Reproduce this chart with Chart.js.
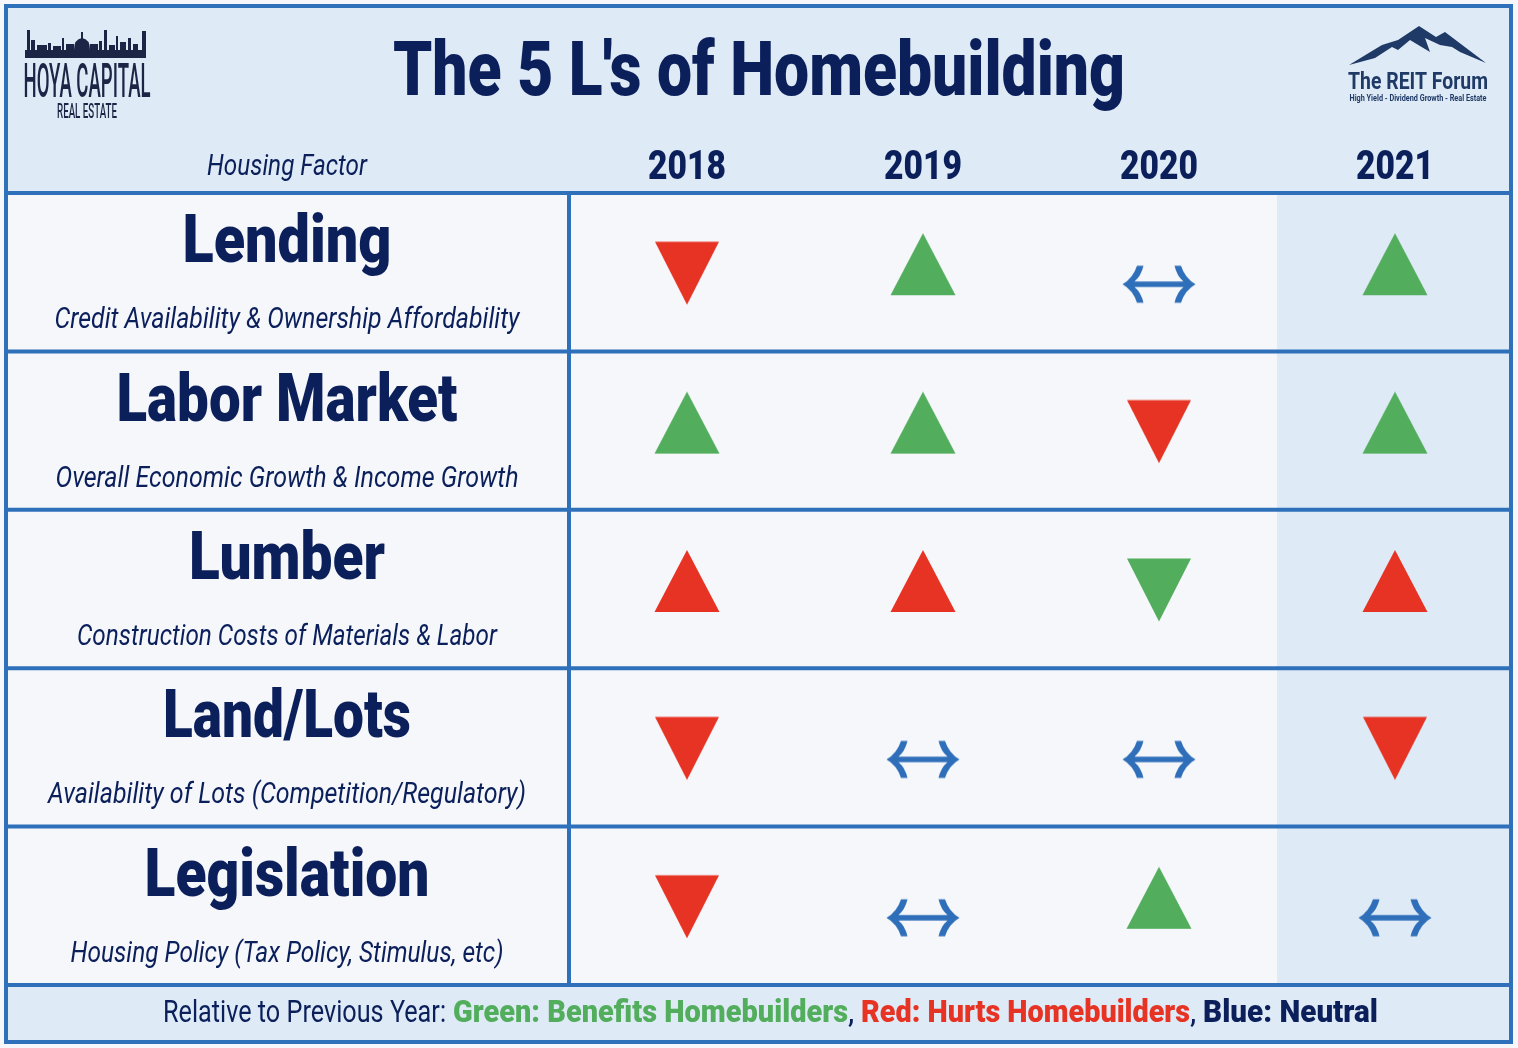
<!DOCTYPE html>
<html>
<head>
<meta charset="utf-8">
<title>The 5 L's of Homebuilding</title>
<script src="https://cdn.jsdelivr.net/npm/chart.js@4.4.1/dist/chart.umd.min.js"></script>
<style>
  html, body { margin: 0; padding: 0; background: #f5f7fb; }
  #wrap { width: 1518px; height: 1048px; position: relative; }
</style>
</head>
<body>
<div id="wrap"><canvas id="lsChart" width="1518" height="1048"></canvas></div>
<script>
// ---- data ----
const years = ['2018', '2019', '2020', '2021'];
const factors = ['Lending', 'Labor Market', 'Lumber', 'Land/Lots', 'Legislation'];
const factorNotes = [
    'Credit Availability & Ownership Affordability',
    'Overall Economic Growth & Income Growth',
    'Construction Costs of Materials & Labor',
    'Availability of Lots (Competition/Regulatory)',
    'Housing Policy (Tax Policy, Stimulus, etc)'
];
// direction of each factor vs previous year (rows = factors, cols = years)
const moves = [
    ['down', 'up', 'flat', 'up'],
    ['up', 'up', 'down', 'up'],
    ['up', 'up', 'down', 'up'],
    ['down', 'flat', 'flat', 'down'],
    ['down', 'flat', 'up', 'flat']
];
// what that move means for homebuilders
const effects = [
    ['hurts', 'benefits', 'neutral', 'benefits'],
    ['benefits', 'benefits', 'hurts', 'benefits'],
    ['hurts', 'hurts', 'benefits', 'hurts'],
    ['hurts', 'neutral', 'neutral', 'hurts'],
    ['hurts', 'neutral', 'benefits', 'neutral']
];
const effectKeys = ['benefits', 'hurts', 'neutral'];
const effectLabels = ['Benefits Homebuilders', 'Hurts Homebuilders', 'Neutral'];

const title = "The 5 L's of Homebuilding";
const footerParts = [
    { text: 'Relative to Previous Year:', tone: 'plain' },
    { text: 'Green: Benefits Homebuilders', tone: 'benefits' },
    { text: ',', tone: 'plain' },
    { text: 'Red: Hurts Homebuilders', tone: 'hurts' },
    { text: ',', tone: 'plain' },
    { text: 'Blue: Neutral', tone: 'navy' }
];

// ---- style ----
const W = 1518, H = 1048;
const navy = '#0b1f5b';
const lineBlue = '#2f70bb';
const toneColors = { benefits: '#52ad5c', hurts: '#e73323', neutral: '#2f6fba', plain: navy, navy: navy };
const headBg = '#deeaf6';
const bodyBg = '#f5f7fb';
const sans = 'Roboto, "Liberation Sans", "DejaVu Sans", sans-serif';
const heavy = '900 ';
// fitted text widths (px) measured from the layout
const nameFit = [209, 341, 196, 248, 285];
const noteFit = [465, 463, 420, 478, 433];
const footerX = [163, 453, 848, 861, 1190, 1203];
const footerFit = [283, 395, 8, 329, 7, 175];

// marker images: shape drawn off-centre inside its canvas so it sits where the original put it
function makeMarker(move, color) {
    const c = document.createElement('canvas');
    c.width = 80; c.height = 100;
    const g = c.getContext('2d');
    g.fillStyle = color;
    const cx = 40;
    g.beginPath();
    if (move === 'up') {
        const cy = 50 - 8;
        g.moveTo(cx, cy - 31); g.lineTo(cx + 32.5, cy + 31); g.lineTo(cx - 32.5, cy + 31);
        g.closePath(); g.fill();
    } else if (move === 'down') {
        const cy = 50 + 1;
        g.moveTo(cx - 32, cy - 31.5); g.lineTo(cx + 32, cy - 31.5); g.lineTo(cx, cy + 31.5);
        g.closePath(); g.fill();
    } else {
        const cy = 50 + 12;
        g.translate(cx, cy);
        g.moveTo(-36.5, 0);
        g.quadraticCurveTo(-26, -6, -22, -18.5);
        g.lineTo(-15.5, -18.5);
        g.quadraticCurveTo(-18, -8, -24.5, -2.8);
        g.lineTo(24.5, -2.8);
        g.quadraticCurveTo(18, -8, 15.5, -18.5);
        g.lineTo(22, -18.5);
        g.quadraticCurveTo(26, -6, 36.5, 0);
        g.quadraticCurveTo(26, 6, 22, 18.5);
        g.lineTo(15.5, 18.5);
        g.quadraticCurveTo(18, 8, 24.5, 2.8);
        g.lineTo(-24.5, 2.8);
        g.quadraticCurveTo(-18, 8, -15.5, 18.5);
        g.lineTo(-22, 18.5);
        g.quadraticCurveTo(-26, 6, -36.5, 0);
        g.closePath(); g.fill();
    }
    return c;
}
const markerCache = {};
function marker(move, effect) {
    const key = move + '-' + effect;
    if (!markerCache[key]) markerCache[key] = makeMarker(move, toneColors[effect]);
    return markerCache[key];
}

// one dataset per effect type
const datasets = effectKeys.map((eff, k) => {
    const pts = [];
    const styles = [];
    factors.forEach((f, r) => {
        years.forEach((yr, c) => {
            if (effects[r][c] === eff) {
                pts.push({ x: yr, y: f });
                styles.push(marker(moves[r][c], eff));
            }
        });
    });
    return {
        label: effectLabels[k],
        data: pts,
        pointStyle: styles,
        pointRadius: 30,
        backgroundColor: toneColors[eff],
        borderColor: toneColors[eff]
    };
});

function fitText(ctx, text, x, y, font, color, maxW, align) {
    ctx.font = font;
    ctx.fillStyle = color;
    ctx.textAlign = align || 'center';
    ctx.textBaseline = 'alphabetic';
    const w = ctx.measureText(text).width;
    if (maxW && w > maxW) ctx.fillText(text, x, y, maxW);
    else ctx.fillText(text, x, y);
}

function drawHoyaLogo(ctx) {
    const ink = '#1c2545';
    ctx.save();
    ctx.fillStyle = ink;
    // skyline
    ctx.fillRect(25, 50, 121, 8);
    const blocks = [[27, 30, 3, 20], [31, 40, 4, 10], [37, 45, 10, 5], [48, 43, 3, 7], [53, 46, 8, 4],
        [62, 38, 2, 12], [66, 44, 8, 6], [90, 44, 8, 6], [99, 41, 3, 9], [104, 30, 3, 20],
        [109, 45, 6, 5], [116, 36, 2, 14], [120, 42, 6, 8], [128, 38, 3, 12], [133, 44, 5, 6], [142, 31, 4, 19]];
    blocks.forEach(b => ctx.fillRect(b[0], b[1], b[2], b[3]));
    // capitol dome
    ctx.beginPath();
    ctx.moveTo(74, 50); ctx.quadraticCurveTo(74, 39, 82, 38); ctx.quadraticCurveTo(90, 39, 90, 50);
    ctx.closePath(); ctx.fill();
    ctx.fillRect(81, 32, 2, 7);
    ctx.restore();
    fitText(ctx, 'HOYA CAPITAL', 87, 97, '500 48px ' + sans, ink, 127);
    fitText(ctx, 'REAL ESTATE', 87, 118, '500 21px ' + sans, ink, 60);
}

function drawReitLogo(ctx) {
    const ink = '#1f3a66';
    ctx.save();
    ctx.fillStyle = ink;
    ctx.beginPath();
    ctx.moveTo(1349, 65);
    ctx.lineTo(1372, 51); ctx.lineTo(1382, 45); ctx.lineTo(1398, 40);
    ctx.lineTo(1419, 26); ctx.lineTo(1436, 37); ctx.lineTo(1445, 32);
    ctx.lineTo(1486, 63);
    ctx.lineTo(1460, 52); ctx.lineTo(1452, 47); ctx.lineTo(1440, 45);
    ctx.lineTo(1425, 38); ctx.lineTo(1430, 52); ctx.lineTo(1410, 40);
    ctx.lineTo(1398, 50); ctx.lineTo(1392, 47); ctx.lineTo(1375, 58);
    ctx.closePath(); ctx.fill();
    ctx.restore();
    fitText(ctx, 'The REIT Forum', 1418, 89, 'bold 24px ' + sans, ink, 140);
    fitText(ctx, 'High Yield - Dividend Growth - Real Estate', 1418, 101, 'bold 9px ' + sans, ink, 137);
}

const tablePlugin = {
    id: 'tablePlugin',
    beforeDraw(chart) {
        const { ctx, chartArea: a, scales: { x } } = chart;
        ctx.save();
        ctx.fillStyle = bodyBg;
        ctx.fillRect(0, 0, W, H);
        ctx.fillStyle = headBg;
        ctx.fillRect(6, 6, 1506, a.top - 6);
        ctx.fillRect(6, a.bottom, 1506, 1042 - a.bottom);
        // shade the latest year column
        const last = years.length - 1;
        const l = x.getPixelForValue(last - 0.5);
        const r = x.getPixelForValue(last + 0.5);
        ctx.fillRect(l, a.top, r - l, a.bottom - a.top);
        ctx.restore();
    },
    afterDraw(chart) {
        const { ctx, chartArea: a, scales: { x, y } } = chart;
        ctx.save();
        // grid lines
        ctx.strokeStyle = lineBlue;
        ctx.lineWidth = 4;
        ctx.beginPath();
        for (let i = 0; i <= factors.length; i++) {
            const yy = y.getPixelForValue(i - 0.5);
            ctx.moveTo(6, yy); ctx.lineTo(1512, yy);
        }
        ctx.moveTo(a.left, a.top); ctx.lineTo(a.left, a.bottom);
        ctx.stroke();
        ctx.strokeRect(6, 6, 1505, 1036);

        // title + logos
        fitText(ctx, title, 759, 95, heavy + '76px ' + sans, navy, 732);
        drawHoyaLogo(ctx);
        drawReitLogo(ctx);

        // column headers
        fitText(ctx, 'Housing Factor', 287, 175, 'italic 30px ' + sans, navy, 160);
        years.forEach((yr, i) => {
            fitText(ctx, yr, x.getPixelForValue(i), 179, heavy + '40px ' + sans, navy, 78);
        });

        // row labels
        factors.forEach((f, i) => {
            const cy = y.getPixelForValue(i);
            fitText(ctx, f, 287, cy - 10, heavy + '66px ' + sans, navy, nameFit[i]);
            fitText(ctx, factorNotes[i], 287, cy + 56, 'italic 30px ' + sans, navy, noteFit[i]);
        });

        // footer key
        footerParts.forEach((p, i) => {
            const font = (p.tone === 'plain' ? '' : heavy) + '32px ' + sans;
            fitText(ctx, p.text, footerX[i], 1022, font, toneColors[p.tone], footerFit[i], 'left');
        });
        ctx.restore();
    }
};

const ctx = document.getElementById('lsChart').getContext('2d');
const lsChart = new Chart(ctx, {
    type: 'scatter',
    data: { datasets: datasets },
    options: {
        responsive: false,
        devicePixelRatio: 1,
        animation: false,
        events: [],
        layout: { autoPadding: false, padding: { left: 569, right: 5, top: 193, bottom: 63 } },
        plugins: {
            legend: { display: false },
            tooltip: { enabled: false }
        },
        scales: {
            x: { type: 'category', labels: years, offset: true, display: false },
            y: { type: 'category', labels: factors, offset: true, display: false }
        }
    },
    plugins: [tablePlugin]
});
</script>
</body>
</html>
